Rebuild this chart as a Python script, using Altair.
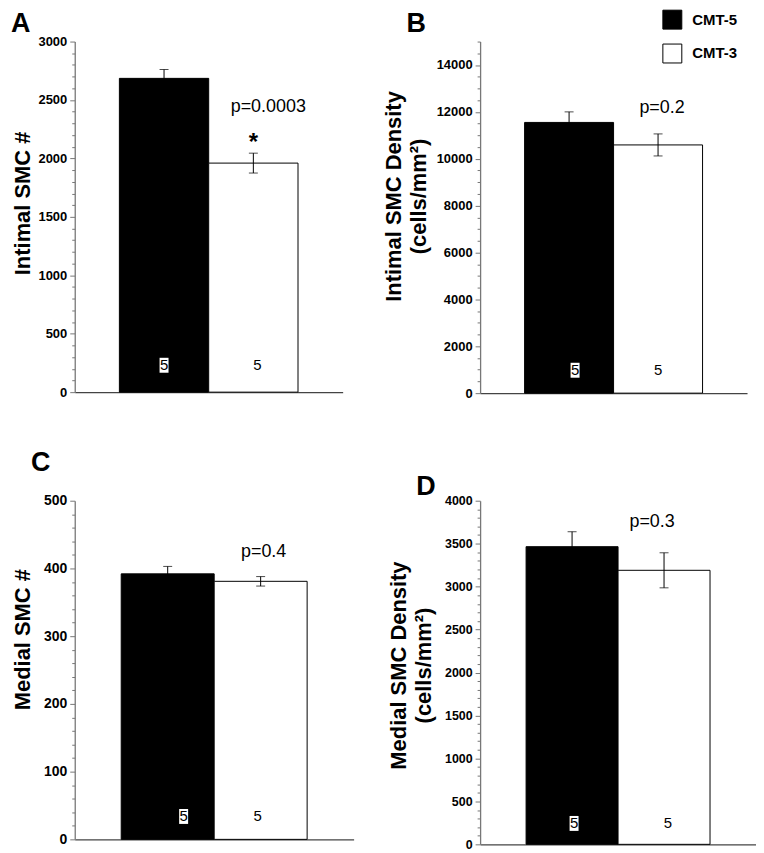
import altair as alt
import pandas as pd

FONT = "Liberation Sans"

groups = ["CMT-5", "CMT-3"]
n_animals = [5, 5]

# Panel values (mean, SEM)
a_means = [2685, 1960]
a_errs = [76, 85]
b_means = [11550, 10590]
b_errs = [450, 470]
c_means = [392, 381]
c_errs = [11, 7]
d_means = [3465, 3190]
d_errs = [174, 204]

p_labels = ["p=0.0003", "p=0.2", "p=0.4", "p=0.3"]
panel_letters = ["A", "B", "C", "D"]
y_titles = [
    ["Intimal SMC #"],
    ["Intimal SMC Density", "(cells/mm²)"],
    ["Medial SMC #"],
    ["Medial SMC Density", "(cells/mm²)"],
]
y_max = [3000, 15000, 500, 4000]
major_step = [500, 2000, 100, 500]
minor_step = [100, 500, 20, 100]
label_max = [3000, 14000, 500, 4000]


def panel(i, means, errs, w, h, st, legend=False, star=False):
    df = pd.DataFrame({
        "group": groups,
        "mean": means,
        "lo": [m - e for m, e in zip(means, errs)],
        "hi": [m + e for m, e in zip(means, errs)],
        "nlabel": [str(v) for v in n_animals],
    })
    xenc = alt.X(
        "group:N",
        scale=alt.Scale(domain=groups, paddingInner=0, paddingOuter=0.5),
        axis=alt.Axis(title=None, labels=False, ticks=False, grid=False,
                      domainColor="#444444", domainWidth=1.3),
    )
    vals = list(range(0, y_max[i] + 1, minor_step[i]))
    yaxis = alt.Axis(
        values=vals,
        format="d",
        labelExpr=f"(datum.value % {major_step[i]} === 0 && datum.value <= {label_max[i]}) ? datum.label : ''",
        labelOverlap=False,
        labelFont=FONT,
        labelFontWeight="bold",
        labelFontSize=st["lfs"],
        labelColor="black",
        labelPadding=3,
        tickSize={"condition": {"test": f"datum.value % {major_step[i]} === 0", "value": 5}, "value": 3},
        tickColor="#777777",
        tickWidth=1,
        domainColor="#777777",
        domainWidth=1.3,
        grid=False,
        title=y_titles[i],
        titleFont=FONT,
        titleFontWeight="bold",
        titleFontSize=22,
        titleLineHeight=25,
        titleColor="black",
        titleX=st["tx"],
        titleY=st["ty"],
    )
    yscale = alt.Scale(domain=[0, y_max[i]], nice=False, zero=True)

    def Y(f):
        return alt.Y(f, scale=yscale, axis=yaxis)

    leg = None
    if legend:
        leg = alt.Legend(
            title=None, orient="none", legendX=st["lgx"], legendY=st["lgy"],
            symbolType="square", symbolSize=361, symbolStrokeColor="black",
            symbolStrokeWidth=1, labelFont=FONT, labelFontWeight="bold",
            labelFontSize=15, labelColor="black", labelOffset=10, rowPadding=10,
            padding=0,
        )

    bars = alt.Chart(df).mark_bar(stroke="black", strokeWidth=1).encode(
        x=xenc,
        y=Y("mean:Q"),
        fill=alt.Fill("group:N", scale=alt.Scale(domain=groups, range=["black", "white"]), legend=leg),
    )
    rule = alt.Chart(df).mark_rule(color="black", strokeWidth=1).encode(
        x=xenc, y=Y("lo:Q"), y2="hi:Q"
    )
    cap_hi = alt.Chart(df).mark_tick(color="black", thickness=1, size=9).encode(x=xenc, y=Y("hi:Q"))
    cap_lo = alt.Chart(df).mark_tick(color="black", thickness=1, size=9).encode(x=xenc, y=Y("lo:Q"))

    pdf = pd.DataFrame({"group": [groups[1]], "hi": [means[1] + errs[1]], "label": [p_labels[i]]})
    ptxt = alt.Chart(pdf).mark_text(
        font=FONT, fontSize=18, color="black", baseline="middle", dx=st["pdx"], dy=st["pdy"]
    ).encode(x=xenc, y=Y("hi:Q"), text="label:N")

    black_df = df[df["group"] == groups[0]]
    white_df = df[df["group"] == groups[1]]
    nbox = alt.Chart(black_df).mark_point(
        shape="M-0.6,-1L0.6,-1L0.6,1L-0.6,1Z", filled=True, color="white",
        opacity=1, size=225, strokeWidth=0, xOffset=st["nbdx"]
    ).encode(x=xenc, y=alt.value(h - st["noff"]))
    ntxt_b = alt.Chart(black_df).mark_text(
        font=FONT, fontSize=15, color="black", baseline="middle", dx=st["nbdx"]
    ).encode(x=xenc, y=alt.value(h - st["noff"]), text="nlabel:N")
    ntxt_w = alt.Chart(white_df).mark_text(
        font=FONT, fontSize=15, color="black", baseline="middle", dx=st["nwdx"]
    ).encode(x=xenc, y=alt.value(h - st["noff"]), text="nlabel:N")

    layers = [bars, rule, cap_hi, cap_lo, ptxt, nbox, ntxt_b, ntxt_w]
    if star:
        sdf = pd.DataFrame({"group": [groups[1]], "hi": [means[1] + errs[1]], "s": ["*"]})
        layers.append(
            alt.Chart(sdf).mark_text(font=FONT, fontSize=24, fontWeight="bold", color="black",
                                     baseline="alphabetic", dy=-3).encode(
                x=xenc, y=Y("hi:Q"), text="s:N")
        )
    return alt.layer(*layers).properties(
        width=w, height=h,
        title=alt.TitleParams(
            text=panel_letters[i], anchor="start", frame="group", dx=st["ldx"],
            offset=st["lof"], fontSize=27, fontWeight="bold", font=FONT, color="black",
        ),
    )


pa = panel(0, a_means, a_errs, 269, 352,
           dict(lfs=13, tx=-40, ty=162, pdx=15, pdy=-46, noff=27, nbdx=0, nwdx=4,
                ldx=-64, lof=-2), star=True)
pb = panel(1, b_means, b_errs, 268, 353,
           dict(lfs=13, tx=-75, ty=155, pdx=4, pdy=-26, noff=23, nbdx=6, nwdx=0,
                ldx=-74, lof=-28, lgx=183, lgy=-32), legend=True)
pc = panel(2, c_means, c_errs, 280, 340,
           dict(lfs=14, tx=-40, ty=139, pdx=3, pdy=-25, noff=23, nbdx=16, nwdx=-3,
                ldx=-44, lof=17))
pd_ = panel(3, d_means, d_errs, 277, 345,
            dict(lfs=12.5, tx=-70, ty=165, pdx=-12, pdy=-31, noff=21, nbdx=2, nwdx=4,
                 ldx=-64, lof=-6))

chart = alt.concat(
    pa, pb, pc, pd_, columns=2, bounds="flush",
    spacing={"row": 108, "column": 127},
    padding={"left": 3, "top": 0, "right": 0, "bottom": 0},
).resolve_scale(fill="independent").configure_view(stroke=None)

chart.save("out.html", embed_options={"renderer": "svg", "actions": False})
